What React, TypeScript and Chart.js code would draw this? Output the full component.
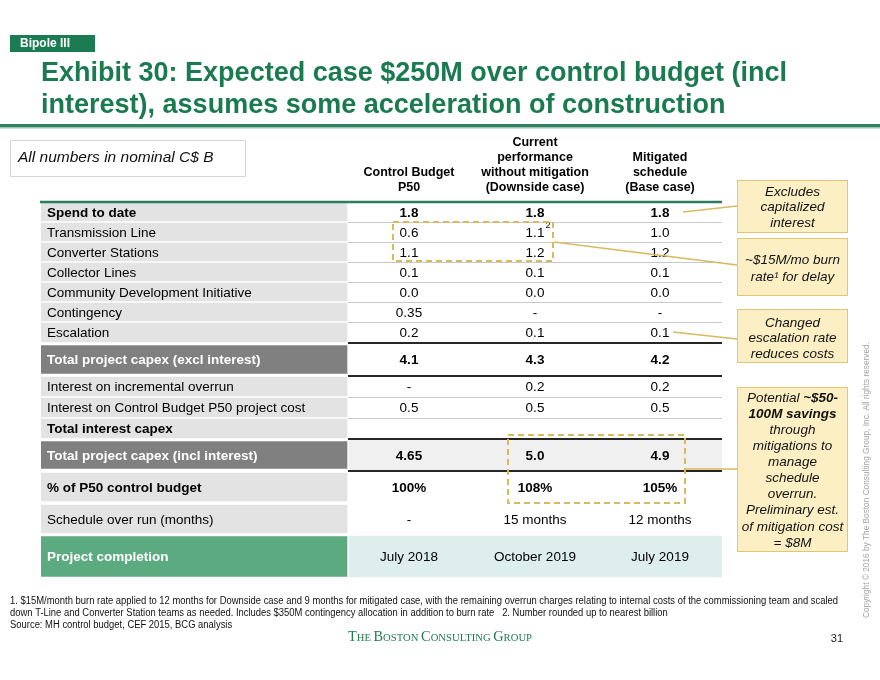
import { useEffect, useRef } from "react";
import { Chart, registerables } from "chart.js";

Chart.register(...registerables);

// ---------- DATA ----------
const ROW_LABELS = [
  "Spend to date",
  "Transmission Line",
  "Converter Stations",
  "Collector Lines",
  "Community Development Initiative",
  "Contingency",
  "Escalation",
  "Total project capex (excl interest)",
  "Interest on incremental overrun",
  "Interest on Control Budget P50 project cost",
  "Total interest capex",
  "Total project capex (incl interest)",
  "% of P50 control budget",
  "Schedule over run (months)",
  "Project completion",
];
const ROW_STYLES = [
  "bold", "plain", "plain", "plain", "plain", "plain", "plain", "total",
  "plain", "plain", "boldLabel", "total", "boldTall", "plainTall", "final",
];
const COLUMN_HEADERS = [
  ["Control Budget", "P50"],
  ["Current", "performance", "without mitigation", "(Downside case)"],
  ["Mitigated", "schedule", "(Base case)"],
];
const CONTROL_BUDGET_P50 = ["1.8", "0.6", "1.1", "0.1", "0.0", "0.35", "0.2", "4.1", "-", "0.5", "", "4.65", "100%", "-", "July 2018"];
const DOWNSIDE_CASE = ["1.8", "1.1", "1.2", "0.1", "0.0", "-", "0.1", "4.3", "0.2", "0.5", "", "5.0", "108%", "15 months", "October 2019"];
const BASE_CASE = ["1.8", "1.0", "1.2", "0.1", "0.0", "-", "0.1", "4.2", "0.2", "0.5", "", "4.9", "105%", "12 months", "July 2019"];
const SUPERSCRIPT = { col: 1, row: 1, mark: "2" };

const TITLE_LINES = [
  "Exhibit 30: Expected case $250M over control budget (incl",
  "interest), assumes some acceleration of construction",
];
const SECTION_TAG = "Bipole III";
const UNITS_NOTE = "All numbers in nominal C$ B";
const CALLOUT_A = ["Excludes", "capitalized", "interest"];
const CALLOUT_B = ["~$15M/mo burn", "rate\u00B9 for delay"];
const CALLOUT_C = ["Changed", "escalation rate", "reduces costs"];
const CALLOUT_D: [string, string][] = [
  ["Potential ", "~$50-"],
  ["", "100M savings"],
  ["through", ""],
  ["mitigations to", ""],
  ["manage", ""],
  ["schedule", ""],
  ["overrun.", ""],
  ["Preliminary est.", ""],
  ["of mitigation cost", ""],
  ["= $8M", ""],
];
const FOOTNOTES = [
  "1. $15M/month burn rate applied to 12 months for Downside case and 9 months for mitigated case, with the remaining overrun charges relating to internal costs of the commissioning team and scaled",
  "down T-Line and Converter Station teams as needed. Includes $350M contingency allocation in addition to burn rate   2. Number rounded up to nearest billion",
  "Source: MH control budget, CEF 2015, BCG analysis",
];
const FIRM_WORDS = ["The", "Boston", "Consulting", "Group"];
const PAGE_NUMBER = "31";
const COPYRIGHT = "Copyright \u00A9 2016 by The Boston Consulting Group, Inc. All rights reserved.";

// ---------- LAYOUT ----------
const W = 880;
const H = 680;
const TABLE = { left: 41, top: 202, right: 722, bottom: 578 };
const ROW_HEIGHTS = [20, 20, 20, 20, 20, 20, 21, 33, 21, 21, 21, 32, 32, 32, 43];
const LABEL_SPAN: [number, number] = [0, 306];
const VALUE_SPAN: [number, number] = [308, 681];
const COL_CENTERS = [368, 494, 619];
const LABEL_X = 6;
const RULES = [
  { at: 0, kind: "green" },
  { at: 1, kind: "gray" }, { at: 2, kind: "gray" }, { at: 3, kind: "gray" },
  { at: 4, kind: "gray" }, { at: 5, kind: "gray" }, { at: 6, kind: "gray" },
  { at: 7, kind: "black" }, { at: 8, kind: "black" },
  { at: 9, kind: "gray" }, { at: 10, kind: "gray" },
  { at: 11, kind: "black" }, { at: 12, kind: "black" },
];
const DASH_BOXES = [
  { x0: 352, x1: 512, y0: 20, y1: 59 },
  { x0: 467, x1: 644, y0: 233, y1: 301 },
];

const GREEN = "#1a7a50";
const GOLD = "#d8b95c";
const FONT = '"Liberation Sans", Arial, Helvetica, sans-serif';
const NARROW = '"Liberation Sans Narrow", "Arial Narrow", "Liberation Sans", Arial, sans-serif';

const ROW_BG: Record<string, string> = {
  bold: "#e3e3e3", plain: "#e3e3e3", boldLabel: "#e3e3e3", total: "#808080",
  boldTall: "#e3e3e3", plainTall: "#e3e3e3", final: "#5caa80",
};
const ROW_GAP: Record<string, number> = {
  bold: 2, plain: 2, boldLabel: 2, total: 5, boldTall: 4, plainTall: 4, final: 3,
};

const rowTops: number[] = [];
{
  let acc = 0;
  for (const h of ROW_HEIGHTS) { rowTops.push(acc); acc += h; }
  rowTops.push(acc);
}
const rowCenter = (i: number) => rowTops[i] + ROW_HEIGHTS[i] / 2;
const TABLE_ROWS_TOTAL = rowTops[rowTops.length - 1];

function f(size: number, weight = "normal", style = "normal", fam = FONT) {
  return `${style} ${weight} ${size}px ${fam}`;
}

function fillFit(ctx: CanvasRenderingContext2D, text: string, x: number, y: number, scale: number) {
  ctx.save();
  ctx.translate(x, y);
  ctx.scale(scale, 1);
  ctx.fillText(text, 0, 0);
  ctx.restore();
}

const tablePlugin = {
  id: "slideTable",
  afterDatasetsDraw(chart: any) {
    const ctx: CanvasRenderingContext2D = chart.ctx;
    const xs = chart.scales.x;
    const ys = chart.scales.y;
    const px = (v: number) => xs.getPixelForValue(v);
    const py = (v: number) => ys.getPixelForValue(v);
    ctx.save();

    // ---- table rules ----
    for (const r of RULES) {
      const y = py(rowTops[r.at]);
      ctx.beginPath();
      if (r.kind === "green") {
        ctx.strokeStyle = "#2d7d5d"; ctx.lineWidth = 2.5;
        ctx.moveTo(px(-1), y); ctx.lineTo(px(VALUE_SPAN[1]), y);
      } else if (r.kind === "black") {
        ctx.strokeStyle = "#262626"; ctx.lineWidth = 2;
        ctx.moveTo(px(VALUE_SPAN[0] - 1), y); ctx.lineTo(px(VALUE_SPAN[1]), y);
      } else {
        ctx.strokeStyle = "#c9c9c9"; ctx.lineWidth = 1;
        ctx.moveTo(px(VALUE_SPAN[0] - 1), Math.round(y) + 0.5); ctx.lineTo(px(VALUE_SPAN[1]), Math.round(y) + 0.5);
      }
      ctx.stroke();
    }

    // ---- row labels ----
    ctx.textBaseline = "middle";
    ctx.textAlign = "left";
    ROW_LABELS.forEach((lab, i) => {
      const st = ROW_STYLES[i];
      const bold = st !== "plain" && st !== "plainTall";
      ctx.font = f(13.5, bold ? "bold" : "normal");
      ctx.fillStyle = st === "total" || st === "final" ? "#ffffff" : "#000000";
      ctx.fillText(lab, px(LABEL_X), py(rowCenter(i)) + 1);
    });

    // ---- values ----
    const cols = [CONTROL_BUDGET_P50, DOWNSIDE_CASE, BASE_CASE];
    ctx.textAlign = "center";
    cols.forEach((col, c) => {
      col.forEach((v, i) => {
        if (!v) return;
        const st = ROW_STYLES[i];
        const bold = st === "bold" || st === "total" || st === "boldTall";
        ctx.font = f(13.5, bold ? "bold" : "normal");
        ctx.fillStyle = "#000";
        const x = px(COL_CENTERS[c]);
        const y = py(rowCenter(i)) + 1;
        ctx.fillText(v, x, y);
        if (SUPERSCRIPT.col === c && SUPERSCRIPT.row === i) {
          const w = ctx.measureText(v).width;
          ctx.font = f(9);
          ctx.textAlign = "left";
          ctx.fillText(SUPERSCRIPT.mark, x + w / 2 + 1, y - 7);
          ctx.textAlign = "center";
        }
      });
    });

    // ---- column headers ----
    ctx.font = f(12.5, "bold");
    ctx.fillStyle = "#000";
    COLUMN_HEADERS.forEach((lines, c) => {
      const n = lines.length;
      lines.forEach((ln, k) => {
        ctx.fillText(ln, px(COL_CENTERS[c]), py(0) - 14 - (n - 1 - k) * 15.3);
      });
    });

    // ---- dashed highlight boxes ----
    ctx.strokeStyle = GOLD;
    ctx.lineWidth = 2;
    ctx.setLineDash([6, 4]);
    for (const b of DASH_BOXES) {
      ctx.strokeRect(px(b.x0), py(b.y0), px(b.x1) - px(b.x0), py(b.y1) - py(b.y0));
    }
    ctx.setLineDash([]);

    // ---- callout boxes ----
    const boxX = 737, boxW = 111;
    const callBox = (y0: number, y1: number) => {
      ctx.fillStyle = "#fcefc4";
      ctx.fillRect(boxX, y0, boxW, y1 - y0);
      ctx.strokeStyle = "#e3c66f";
      ctx.lineWidth = 1;
      ctx.strokeRect(boxX + 0.5, y0 + 0.5, boxW - 1, y1 - y0 - 1);
    };
    const cx = boxX + boxW / 2;
    callBox(180, 233);
    callBox(238, 296);
    callBox(309, 363);
    callBox(387, 552);
    ctx.fillStyle = "#111";
    ctx.font = f(13.5, "normal", "italic");
    ctx.textAlign = "center";
    CALLOUT_A.forEach((t, k) => ctx.fillText(t, cx, 192 + k * 15.5));
    CALLOUT_B.forEach((t, k) => ctx.fillText(t, cx, 260 + k * 17));
    CALLOUT_C.forEach((t, k) => ctx.fillText(t, cx, 323 + k * 15.5));
    CALLOUT_D.forEach(([a, b], k) => {
      const y = 398 + k * 16.1;
      ctx.font = f(13.5, "normal", "italic");
      const wa = ctx.measureText(a).width;
      ctx.font = f(13.5, "bold", "italic");
      const wb = ctx.measureText(b).width;
      let x = cx - (wa + wb) / 2;
      ctx.textAlign = "left";
      ctx.font = f(13.5, "normal", "italic");
      ctx.fillText(a, x, y);
      x += wa;
      ctx.font = f(13.5, "bold", "italic");
      ctx.fillText(b, x, y);
    });

    // ---- connectors ----
    ctx.strokeStyle = GOLD;
    ctx.lineWidth = 1.5;
    const seg = (a: number, b: number, c: number, d: number) => {
      ctx.beginPath(); ctx.moveTo(a, b); ctx.lineTo(c, d); ctx.stroke();
    };
    seg(683, 212, 737, 206);
    seg(554, 242, 737, 265);
    seg(673, 332, 737, 339);
    seg(686, 469, 737, 469);

    // ---- header band ----
    ctx.fillStyle = "#1b7c53";
    ctx.fillRect(10, 35, 85, 17);
    ctx.fillStyle = "#fff";
    ctx.font = f(12, "bold", "normal", NARROW);
    ctx.textAlign = "left";
    ctx.textBaseline = "middle";
    {
      const w = ctx.measureText(SECTION_TAG).width;
      fillFit(ctx, SECTION_TAG, 20, 44, Math.min(1, 55 / w));
    }

    ctx.fillStyle = GREEN;
    ctx.font = f(27, "bold", "normal", NARROW);
    ctx.textBaseline = "alphabetic";
    {
      const w1 = ctx.measureText(TITLE_LINES[0]).width;
      const s = 746 / w1;
      fillFit(ctx, TITLE_LINES[0], 41, 81, s);
      fillFit(ctx, TITLE_LINES[1], 41, 113, s);
    }
    ctx.fillStyle = "#2f8360";
    ctx.fillRect(0, 124, W, 3);
    ctx.fillStyle = "#9cc4b0";
    ctx.fillRect(0, 127, W, 1.5);

    // units note
    ctx.strokeStyle = "#d6d6d6";
    ctx.lineWidth = 1;
    ctx.strokeRect(10.5, 140.5, 235, 36);
    ctx.fillStyle = "#111";
    ctx.font = f(15.5, "normal", "italic");
    ctx.textBaseline = "middle";
    ctx.fillText(UNITS_NOTE, 18, 158);

    // footnotes
    ctx.fillStyle = "#111";
    ctx.font = f(10, "normal", "normal", NARROW);
    {
      const w = ctx.measureText(FOOTNOTES[0]).width;
      const s = 828 / w;
      FOOTNOTES.forEach((t, k) => fillFit(ctx, t, 10, 601 + k * 12.3, s));
    }

    // firm name in small caps
    {
      const big = 15, small = 11.2;
      const fam = '"Liberation Serif", "Times New Roman", serif';
      const parts: { t: string; s: number }[] = [];
      FIRM_WORDS.forEach((wd, k) => {
        parts.push({ t: wd[0].toUpperCase(), s: big });
        parts.push({ t: wd.slice(1).toUpperCase() + (k < FIRM_WORDS.length - 1 ? " " : ""), s: small });
      });
      let total = 0;
      for (const p of parts) { ctx.font = f(p.s, "normal", "normal", fam); total += ctx.measureText(p.t).width; }
      const sc = 184 / total;
      ctx.save();
      ctx.translate(348, 641);
      ctx.scale(sc, 1);
      ctx.fillStyle = "#1f7a4f";
      ctx.textBaseline = "alphabetic";
      let x = 0;
      for (const p of parts) {
        ctx.font = f(p.s, "normal", "normal", fam);
        ctx.fillText(p.t, x, 0);
        x += ctx.measureText(p.t).width;
      }
      ctx.restore();
    }

    // page number
    ctx.fillStyle = "#222";
    ctx.font = f(11, "normal", "normal", NARROW);
    ctx.textAlign = "right";
    ctx.textBaseline = "middle";
    ctx.fillText(PAGE_NUMBER, 843, 639);

    // copyright vertical
    ctx.save();
    ctx.translate(866, 480);
    ctx.rotate(-Math.PI / 2);
    ctx.fillStyle = "#a3a3a3";
    ctx.font = f(9.5);
    ctx.textAlign = "center";
    const cw = ctx.measureText(COPYRIGHT).width;
    ctx.scale(276 / cw, 1);
    ctx.fillText(COPYRIGHT, 0, 0);
    ctx.restore();

    ctx.restore();
  },
};

function buildDatasets() {
  const ds: any[] = [];
  ROW_LABELS.forEach((_, i) => {
    const st = ROW_STYLES[i];
    ds.push({
      label: ROW_LABELS[i],
      data: [{ y: rowCenter(i), x: LABEL_SPAN }],
      backgroundColor: ROW_BG[st],
      barThickness: ROW_HEIGHTS[i] - ROW_GAP[st],
      borderWidth: 0,
      stack: "rows",
    });
  });
  // value-area shading
  ds.push({
    label: "total incl shade",
    data: [{ y: rowCenter(11), x: VALUE_SPAN }],
    backgroundColor: "#f0f0f0",
    barThickness: ROW_HEIGHTS[11] - 2,
    borderWidth: 0,
    stack: "rows",
  });
  ds.push({
    label: "completion shade",
    data: [{ y: rowCenter(14), x: VALUE_SPAN }],
    backgroundColor: "#ddeeed",
    barThickness: ROW_HEIGHTS[14] - 2,
    borderWidth: 0,
    stack: "rows",
  });
  return ds;
}

export default function App() {
  const ref = useRef<HTMLCanvasElement>(null);
  useEffect(() => {
    const canvas = ref.current!;
    const chart = new Chart(canvas, {
      type: "bar",
      data: { datasets: buildDatasets() },
      options: {
        animation: false,
        responsive: false,
        indexAxis: "y",
        events: [],
        layout: {
          padding: {
            left: TABLE.left,
            top: TABLE.top,
            right: W - TABLE.right,
            bottom: H - TABLE.bottom,
          },
        },
        plugins: { legend: { display: false }, tooltip: { enabled: false }, title: { display: false } },
        scales: {
          x: { type: "linear", min: 0, max: TABLE.right - TABLE.left, display: false, stacked: false, offset: false },
          y: { type: "linear", min: 0, max: TABLE_ROWS_TOTAL, reverse: true, display: false, stacked: true, offset: false },
        },
      } as any,
      plugins: [tablePlugin],
    });
    return () => chart.destroy();
  }, []);
  return (
    <div style={{ position: "absolute", left: 0, top: 0, width: W, height: H, background: "#fff" }}>
      <canvas ref={ref} width={W} height={H} style={{ display: "block" }} />
    </div>
  );
}
